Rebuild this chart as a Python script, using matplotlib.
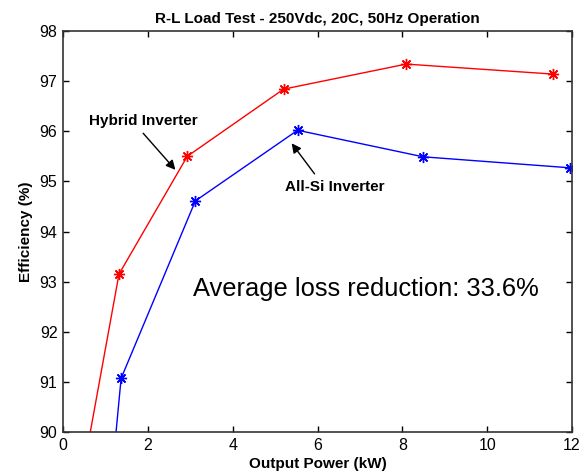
import matplotlib.pyplot as plt

plt.rcParams['font.family'] = ['Liberation Sans', 'DejaVu Sans']

# measured efficiency vs output power
hybrid_kw = [0.45, 1.32, 2.93, 5.20, 8.09, 11.56]
hybrid_eff = [89.10, 93.15, 95.50, 96.84, 97.34, 97.14]
allsi_kw = [1.15, 1.37, 3.12, 5.53, 8.49, 11.96]
allsi_eff = [89.10, 91.07, 94.61, 96.02, 95.49, 95.27]

xticks = [0, 2, 4, 6, 8, 10, 12]
yticks = [90, 91, 92, 93, 94, 95, 96, 97, 98]

fig = plt.figure(figsize=(5.79, 4.74), dpi=100)
ax = fig.add_axes([0.1088, 0.0886, 0.8792, 0.846])

star = (8, 2, 0)
ax.plot(hybrid_kw, hybrid_eff, color='#ff0000', lw=1.0, marker=star,
        markersize=8, markeredgewidth=1.0)
ax.plot(allsi_kw, allsi_eff, color='#0000ff', lw=1.0, marker=star,
        markersize=8, markeredgewidth=1.0)

ax.set_xlim(0, 12)
ax.set_ylim(90, 98)
ax.set_xticks(xticks)
ax.set_yticks(yticks)
ax.tick_params(direction='in', length=4, width=1.0, top=True, right=True,
               labelsize=11.5, pad=4)
for sp in ax.spines.values():
    sp.set_linewidth(1.2)
    sp.set_color('#333333')

ax.set_title('R-L Load Test - 250Vdc, 20C, 50Hz Operation', fontsize=11,
             fontweight='bold', pad=6)
ax.set_xlabel('Output Power (kW)', fontsize=11, fontweight='bold', labelpad=3)
ax.set_ylabel('Efficiency (%)', fontsize=11, fontweight='bold', labelpad=5)

arrow = dict(arrowstyle='-|>', color='black', lw=1.0, mutation_scale=14,
             shrinkA=0, shrinkB=0)
ax.text(1.89, 96.2, 'Hybrid Inverter', fontsize=11, fontweight='bold',
        ha='center', va='center')
ax.annotate('', xy=(2.65, 95.23), xytext=(1.89, 95.96), arrowprops=arrow)
ax.text(6.41, 94.89, 'All-Si Inverter', fontsize=11, fontweight='bold',
        ha='center', va='center')
ax.annotate('', xy=(5.39, 95.76), xytext=(5.93, 95.15), arrowprops=arrow)

ax.text(3.07, 92.85, 'Average loss reduction: 33.6%', fontsize=18.4,
        ha='left', va='center')

fig.savefig('out.png', dpi=100)
